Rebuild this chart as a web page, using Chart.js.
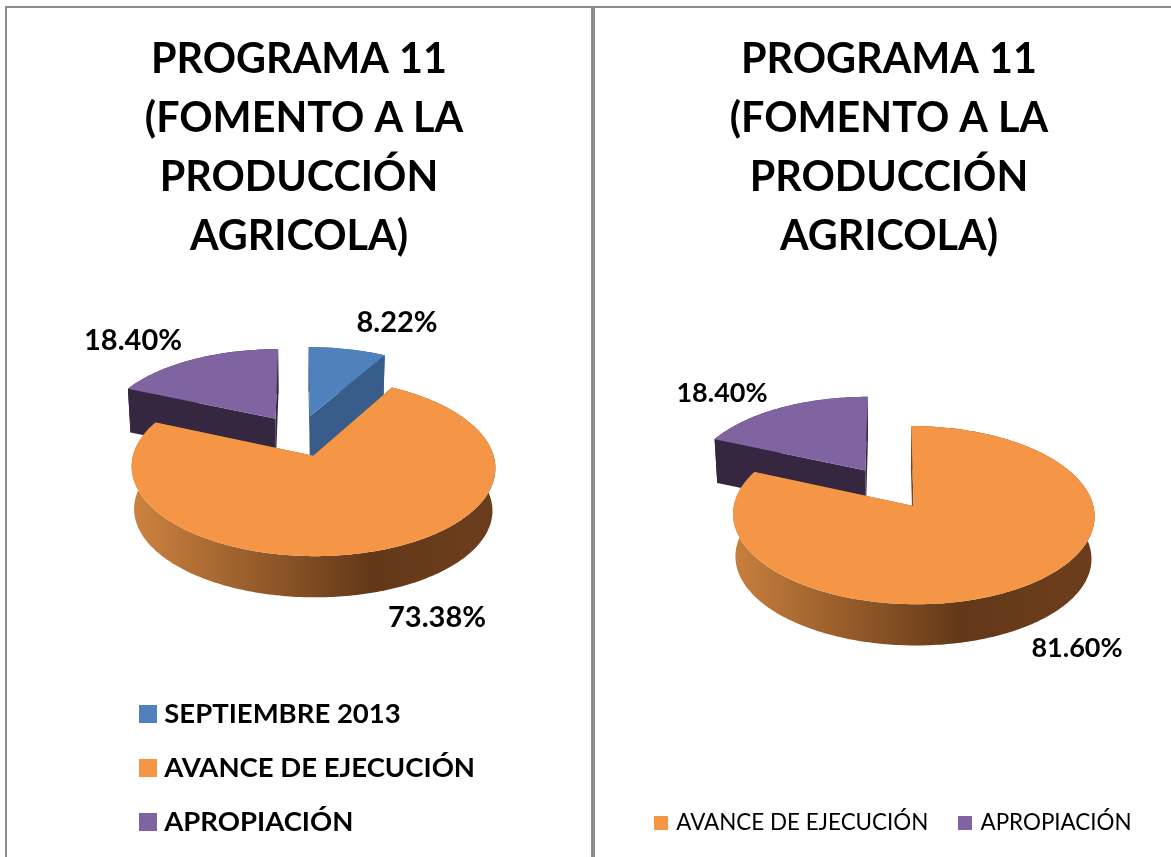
<!DOCTYPE html>
<html><head><meta charset="utf-8">
<script src="https://cdn.jsdelivr.net/npm/chart.js@4"></script>
<style>
html,body{margin:0;padding:0;background:#fff;width:1171px;height:857px;overflow:hidden}
canvas{position:absolute;top:0}
.b{position:absolute;background:#8c8c8c}
</style></head><body>
<div class="b" style="left:5px;top:6px;width:1166px;height:2px"></div>
<div class="b" style="left:5px;top:6px;width:2px;height:851px"></div>
<div class="b" style="left:591px;top:6px;width:4px;height:851px"></div>
<canvas id="c1" style="left:6px"></canvas>
<canvas id="c2" style="left:596px"></canvas>
<script>
const titleA = ['PROGRAMA 11',' (FOMENTO A LA','PRODUCCIÓN','AGRICOLA)'];
const titleB = ['PROGRAMA 11','(FOMENTO A LA','PRODUCCIÓN','AGRICOLA)'];
const categoriesA = ['SEPTIEMBRE 2013','AVANCE DE EJECUCIÓN','APROPIACIÓN'];
const valuesA = [8.22,73.38,18.40];
const categoriesB = ['AVANCE DE EJECUCIÓN','APROPIACIÓN'];
const valuesB = [81.60,18.40];
const COL = {
 'SEPTIEMBRE 2013':{top:'#4F81BD',wall:'#385D8A'},
 'AVANCE DE EJECUCIÓN':{top:'#F59646',wall:null},
 'APROPIACIÓN':{top:'#8064A2',wall:'#362741'}
};
const DEPTH=43, BOTTOM_SCALE=0.985;

function swatch(color,size){
  const c=document.createElement('canvas');c.width=size;c.height=size;
  const x=c.getContext('2d');x.fillStyle=color;x.fillRect(0,0,size,size);return c;
}
const pie3d={
  id:'pie3d',
  beforeLayout(chart){
    const o=chart.options.plugins.pie3d, lg=chart.legend;
    if(lg && !lg._patched){
      const orig=lg._fitRows;
      lg._fitRows=function(...a){const m=this.maxWidth;this.maxWidth=o.legendWrap;const h=orig.apply(this,a);this.maxWidth=m;return h;};
      lg._patched=true;
    }
  },
  afterLayout(chart){
    const o=chart.options.plugins.pie3d, lg=chart.legend;
    lg.left=o.legendLeft; lg.right=o.legendLeft+o.legendWrap;
    lg.top=o.legendTop; lg.bottom=lg.top+lg.height;
  },
  beforeDatasetsDraw(chart){
    const o=chart.options.plugins.pie3d, ctx=chart.ctx;
    const FOCAL=o.focal, TILT=o.tilt;
    const meta=chart.getDatasetMeta(0), arcs=meta.data;
    const labels=chart.data.labels;
    const cx=chart.chartArea.left+chart.chartArea.width/2;
    const cy=chart.chartArea.top+chart.chartArea.height/2+o.shiftY;
    const proj=(gx,gy,low)=>{
      const w=FOCAL/(FOCAL-gy), s=low?BOTTOM_SCALE:1;
      return [cx+gx*w*s, cy+gy*TILT*w*s+(low?DEPTH:0)];
    };
    const order=arcs.map((a,i)=>i).sort((i,j)=>{
      const m=a=>Math.sin((a.startAngle+a.endAngle)/2);
      return m(arcs[i])-m(arcs[j]);
    });
    order.forEach(i=>{
      const a=arcs[i], R=a.outerRadius, off=a.options.offset||0, col=COL[labels[i]];
      const mid=(a.startAngle+a.endAngle)/2;
      const ax=off*Math.cos(mid), ay=off*Math.sin(mid);
      const rim=[];
      const n=Math.ceil((a.endAngle-a.startAngle)/(Math.PI/180));
      for(let k=0;k<=n;k++){
        const t=a.startAngle+(a.endAngle-a.startAngle)*k/n;
        rim.push([ax+R*Math.cos(t),ay+R*Math.sin(t)]);
      }
      let fill=col.wall;
      if(!fill){
        const x0=proj(-R,0,true)[0], x1=proj(R,0,true)[0];
        const g=ctx.createLinearGradient(x0,0,x1,0);
        g.addColorStop(0,'#D08540');g.addColorStop(0.71,'#633818');g.addColorStop(1,'#6B3D1C');
        fill=g;
      }
      const poly=(pts,style)=>{
        ctx.beginPath();pts.forEach((p,j)=>j?ctx.lineTo(p[0],p[1]):ctx.moveTo(p[0],p[1]));
        ctx.closePath();ctx.fillStyle=style;ctx.fill();
      };
      const first=rim[0], last=rim[rim.length-1];
      poly([proj(ax,ay),proj(first[0],first[1]),proj(first[0],first[1],true),proj(ax,ay,true)],fill);
      poly([proj(ax,ay),proj(last[0],last[1]),proj(last[0],last[1],true),proj(ax,ay,true)],fill);
      poly(rim.map(p=>proj(p[0],p[1])).concat(rim.slice().reverse().map(p=>proj(p[0],p[1],true))),fill);
      poly([proj(ax,ay)].concat(rim.map(p=>proj(p[0],p[1]))),col.top);
    });
    ctx.save();
    ctx.fillStyle='#000';ctx.textAlign='center';ctx.textBaseline='middle';
    ctx.font=o.labelFont;
    chart.data.datasets[0].data.forEach((v,i)=>{
      const p=o.labelPos[i];
      ctx.fillText(v.toFixed(2)+'%',p[0],p[1]);
    });
    ctx.restore();
    return false;
  }
};
function make(id,cats,vals,titleText,cfg){
  const el=document.getElementById(id);
  el.width=586;el.height=857;
  return new Chart(el,{
    type:'pie',
    data:{labels:cats,datasets:[{data:vals,radius:cfg.radius,offset:44,
      backgroundColor:cats.map(c=>COL[c].top),borderWidth:0}]},
    options:{
      responsive:false,animation:false,
      plugins:{
        tooltip:{enabled:false},
        title:{display:true,text:titleText,color:'#000',
          font:{family:'Lato',weight:'bold',size:41.3,lineHeight:1.43},padding:{top:30,bottom:10}},
        legend:{display:true,position:'bottom',align:'start',
          labels:{color:'#000',font:cfg.legendFont,usePointStyle:true,pointStyleWidth:cfg.pw,
            padding:cfg.pad,
            generateLabels(chart){
              return Chart.overrides.pie.plugins.legend.labels.generateLabels(chart)
                .map(l=>Object.assign(l,{pointStyle:swatch(COL[cats[l.index]].top,cfg.box)}));
            }}},
        pie3d:cfg.pie
      }
    },
    plugins:[pie3d]
  });
}
make('c1',categoriesA,valuesA,titleA,{
  radius:175,
  legendFont:{family:'Lato',weight:'bold',size:27.5},pw:6,box:18,pad:26.5,
  pie:{focal:1400,tilt:0.47,shiftY:-45,legendLeft:112,legendWrap:400,legendTop:674,labelFont:'bold 29px Lato',
    labelPos:[[391,323],[431,618],[127,341]]}
});
make('c2',categoriesB,valuesB,titleB,{
  radius:176,
  legendFont:{family:'Lato',size:22.4},pw:8,box:14,pad:33,
  pie:{focal:1750,tilt:0.48,shiftY:-46,legendLeft:28,legendWrap:550,legendTop:779,labelFont:'bold 27px Lato',
    labelPos:[[481,648],[126,393]]}
});
</script>
</body></html>
